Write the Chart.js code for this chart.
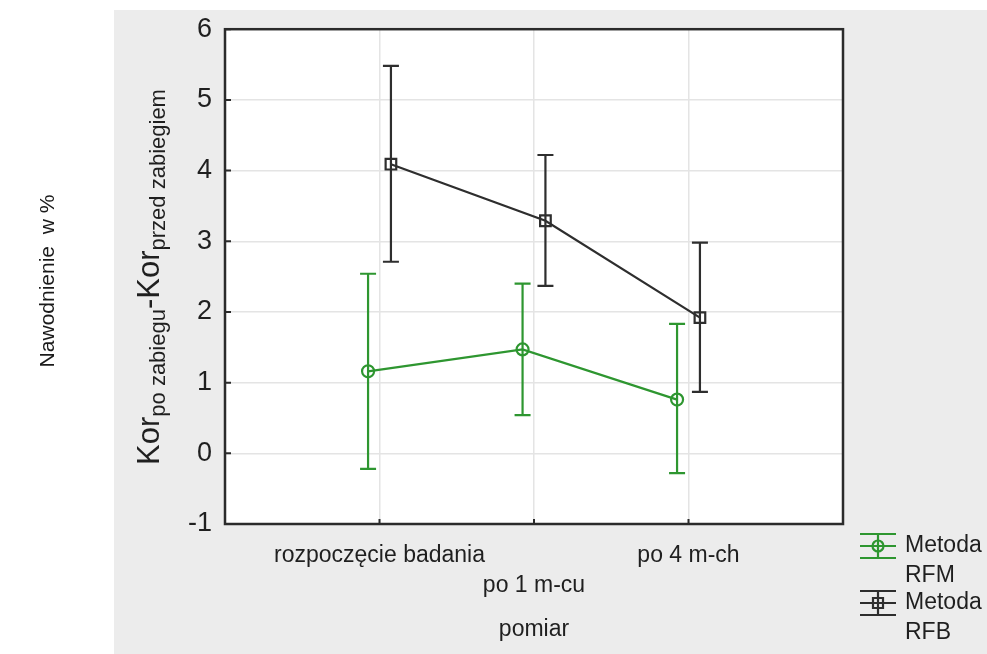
<!DOCTYPE html>
<html>
<head>
<meta charset="utf-8">
<script src="https://cdn.jsdelivr.net/npm/chart.js@4/dist/chart.umd.min.js"></script>
<style>
  body { margin: 0; background: #fff; }
  #wykres { display: block; }
</style>
</head>
<body>
<canvas id="wykres" width="987" height="654"></canvas>
<script>
// pomiary (os x)
const pomiary = ['rozpoczęcie badania', 'po 1 m-cu', 'po 4 m-ch'];
const serie = ['Metoda RFM', 'Metoda RFB'];

// Metoda RFM - srednia i przedzial
const rfmSrednia = [1.16, 1.47, 0.76];
const rfmDol = [-0.22, 0.54, -0.28];
const rfmGora = [2.54, 2.40, 1.83];

// Metoda RFB - srednia i przedzial
const rfbSrednia = [4.09, 3.29, 1.92];
const rfbDol = [2.71, 2.37, 0.87];
const rfbGora = [5.48, 4.22, 2.98];

const zielony = '#2e9630';
const czarny = '#2e2e2e';
const tekst = '#1f1f1f';
const czcionka = '"Liberation Sans", Arial, sans-serif';
const przesuniecie = 0.074; // odsuniecie serii od srodka pomiaru

function punkty(srednie, dx) {
  return srednie.map((v, i) => ({ x: i + 1 + dx, y: v }));
}

// tlo panelu + biale pole wykresu
const tlo = {
  id: 'tlo',
  beforeDraw(chart) {
    const ctx = chart.ctx;
    const a = chart.chartArea;
    ctx.save();
    ctx.fillStyle = '#ececec';
    ctx.fillRect(114, 10, 873, 644);
    ctx.fillStyle = '#ffffff';
    ctx.fillRect(a.left, a.top, a.right - a.left, a.bottom - a.top);
    ctx.restore();
  }
};

// slupki bledow
const bledy = {
  id: 'bledy',
  beforeDatasetsDraw(chart) {
    const ctx = chart.ctx;
    const sx = chart.scales.x;
    const sy = chart.scales.y;
    const zakresy = [[rfmDol, rfmGora], [rfbDol, rfbGora]];
    ctx.save();
    chart.data.datasets.forEach((ds, i) => {
      ctx.strokeStyle = ds.borderColor;
      ctx.lineWidth = 2.2;
      ds.data.forEach((p, j) => {
        const x = sx.getPixelForValue(p.x);
        const y1 = sy.getPixelForValue(zakresy[i][0][j]);
        const y2 = sy.getPixelForValue(zakresy[i][1][j]);
        ctx.beginPath();
        ctx.moveTo(x, y1); ctx.lineTo(x, y2);
        ctx.moveTo(x - 8, y1); ctx.lineTo(x + 8, y1);
        ctx.moveTo(x - 8, y2); ctx.lineTo(x + 8, y2);
        ctx.stroke();
      });
    });
    ctx.restore();
  }
};

// ramka, opisy osi, legenda
const ramka = {
  id: 'ramka',
  afterDraw(chart) {
    const ctx = chart.ctx;
    const a = chart.chartArea;
    const sx = chart.scales.x;
    const sy = chart.scales.y;
    ctx.save();
    ctx.strokeStyle = '#2b2b2b';
    ctx.lineWidth = 2.5;
    ctx.strokeRect(a.left, a.top, a.right - a.left, a.bottom - a.top);
    ctx.lineWidth = 2;
    ctx.beginPath();
    sy.ticks.forEach(t => {
      const y = sy.getPixelForValue(t.value);
      ctx.moveTo(a.left, y); ctx.lineTo(a.left + 6, y);
    });
    [1, 2, 3].forEach(v => {
      const x = sx.getPixelForValue(v);
      ctx.moveTo(x, a.bottom); ctx.lineTo(x, a.bottom - 5);
    });
    ctx.stroke();

    // tytul osi y z indeksami dolnymi
    ctx.fillStyle = tekst;
    ctx.translate(159, 277);
    ctx.rotate(-Math.PI / 2);
    const duza = '31px ' + czcionka;
    const mala = '22px ' + czcionka;
    const czesci = [['Kor', duza, 0], ['po zabiegu', mala, 6], ['-Kor', duza, 0], ['przed zabiegiem', mala, 6]];
    let szer = 0;
    czesci.forEach(c => { ctx.font = c[1]; szer += ctx.measureText(c[0]).width; });
    let px = -szer / 2;
    ctx.textBaseline = 'alphabetic';
    czesci.forEach(c => {
      ctx.font = c[1];
      ctx.fillText(c[0], px, c[2]);
      px += ctx.measureText(c[0]).width;
    });
    ctx.setTransform(1, 0, 0, 1, 0, 0);

    // opis po lewej
    ctx.translate(54, 281);
    ctx.rotate(-Math.PI / 2);
    ctx.font = '21px ' + czcionka;
    ctx.fillStyle = '#1a1a1a';
    ctx.textAlign = 'center';
    ctx.fillText('Nawodnienie  w %', 0, 0);
    ctx.setTransform(1, 0, 0, 1, 0, 0);

    // legenda
    ctx.textAlign = 'left';
    ctx.textBaseline = 'middle';
    ctx.font = '23px ' + czcionka;
    chart.data.datasets.forEach((ds, i) => {
      const y = 546 + i * 57;
      const xs = 878;
      ctx.strokeStyle = ds.borderColor;
      ctx.lineWidth = 2.2;
      ctx.beginPath();
      ctx.moveTo(860, y - 12); ctx.lineTo(896, y - 12);
      ctx.moveTo(860, y); ctx.lineTo(896, y);
      ctx.moveTo(860, y + 12); ctx.lineTo(896, y + 12);
      ctx.moveTo(xs, y - 12); ctx.lineTo(xs, y + 12);
      ctx.stroke();
      ctx.beginPath();
      if (ds.pointStyle === 'circle') {
        ctx.arc(xs, y, 5.5, 0, Math.PI * 2);
      } else {
        ctx.rect(xs - 5, y - 5, 10, 10);
      }
      ctx.stroke();
      const slowa = serie[i].split(' ');
      ctx.fillStyle = tekst;
      ctx.fillText(slowa[0], 905, y);
      ctx.fillText(slowa[1], 905, y + 30);
    });
    ctx.restore();
  }
};

new Chart(document.getElementById('wykres'), {
  type: 'line',
  data: {
    datasets: [{
      label: serie[0],
      data: punkty(rfmSrednia, -przesuniecie),
      borderColor: zielony,
      backgroundColor: 'rgba(0,0,0,0)',
      borderWidth: 2.2,
      pointStyle: 'circle',
      pointRadius: 6,
      pointBorderWidth: 2.2,
      tension: 0
    }, {
      label: serie[1],
      data: punkty(rfbSrednia, przesuniecie),
      borderColor: czarny,
      backgroundColor: 'rgba(0,0,0,0)',
      borderWidth: 2.2,
      pointStyle: 'rect',
      pointRadius: 7.5,
      pointBorderWidth: 2.2,
      tension: 0
    }]
  },
  options: {
    responsive: false,
    animation: false,
    layout: { padding: { left: 165, top: 29, right: 144, bottom: 0 } },
    plugins: {
      legend: { display: false },
      tooltip: { enabled: false }
    },
    scales: {
      x: {
        type: 'linear',
        min: 0,
        max: 4,
        afterFit: (s) => { s.height = 130; },
        border: { display: false },
        grid: { color: '#e4e4e4', lineWidth: 1.5, drawTicks: false },
        ticks: {
          stepSize: 1,
          autoSkip: false,
          maxRotation: 0,
          padding: 17,
          color: tekst,
          font: { family: czcionka, size: 23, lineHeight: 1.3 },
          // srodkowy opis jest o linie nizej
          callback: (v) => v === 2 ? ['', pomiary[1]] : (pomiary[v - 1] || '')
        },
        title: {
          display: true,
          text: 'pomiar',
          color: tekst,
          font: { family: czcionka, size: 23 },
          padding: { top: 0, bottom: 11 }
        }
      },
      y: {
        min: -1,
        max: 6,
        afterFit: (s) => { s.width = 60; },
        border: { display: false },
        grid: { color: '#e4e4e4', lineWidth: 1.5, drawTicks: false },
        ticks: {
          stepSize: 1,
          padding: 13,
          color: tekst,
          font: { family: czcionka, size: 27 }
        }
      }
    }
  },
  plugins: [tlo, bledy, ramka]
});
</script>
</body>
</html>
